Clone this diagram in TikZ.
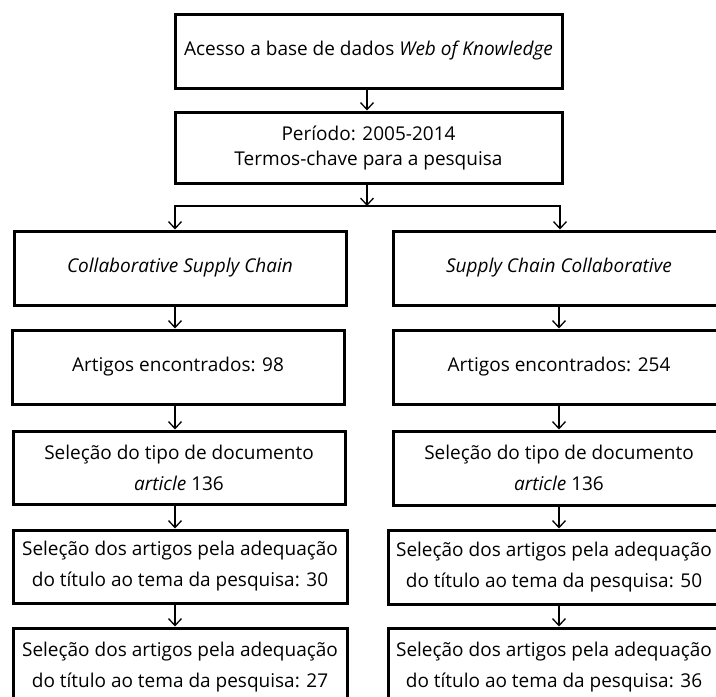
\documentclass[tikz,border=0pt]{standalone}
\usepackage{fontspec}
\setmainfont{Open Sans}
\usetikzlibrary{arrows.meta}
\begin{document}
\begin{tikzpicture}[x=1pt,y=-1pt,
  box/.style={draw=black,line width=3pt,rectangle,align=center,inner sep=0pt,
    font=\fontsize{19}{25}\selectfont},
  wide/.style={font=\fontsize{19}{31}\selectfont},
  arr/.style={line width=1.3pt,-{Straight Barb[length=7pt,width=13pt,line width=1.3pt]}}]
\useasboundingbox (0,0) rectangle (716,697);
\clip (0,0) rectangle (716,697);
% top
\node[box,minimum width=387,minimum height=74] (b1) at (368.5,51) {Acesso a base de dados \textit{Web of Knowledge}};
\node[box,minimum width=387,minimum height=71] (b2) at (368.5,147.5) {Período: 2005-2014\\Termos-chave para a pesquisa};
\coordinate (j) at (367,206);
% left column
\node[box,minimum width=332,minimum height=74] (b3L) at (180,268) {\textit{Collaborative Supply Chain}};
\node[box,minimum width=332,minimum height=74] (b4L) at (178,367) {Artigos encontrados: 98};
\node[box,wide,minimum width=332,minimum height=73] (b5L) at (179,467.5) {Seleção do tipo de documento\\\textit{article} 136};
\node[box,wide,minimum width=334,minimum height=73] (b6L) at (180,566.5) {Seleção dos artigos pela adequação\\do título ao tema da pesquisa: 30};
\node[box,wide,minimum width=334,minimum height=78] (b7L) at (180,667) {Seleção dos artigos pela adequação\\do título ao tema da pesquisa: 27};
% right column
\node[box,minimum width=332,minimum height=74] (b3R) at (559,268) {\textit{Supply Chain Collaborative}};
\node[box,minimum width=332,minimum height=74] (b4R) at (559,367) {Artigos encontrados: 254};
\node[box,wide,minimum width=332,minimum height=74] (b5R) at (559,468) {Seleção do tipo de documento\\\textit{article} 136};
\node[box,wide,minimum width=332,minimum height=74] (b6R) at (554,567) {Seleção dos artigos pela adequação\\do título ao tema da pesquisa: 50};
\node[box,wide,minimum width=332,minimum height=78] (b7R) at (554,667) {Seleção dos artigos pela adequação\\do título ao tema da pesquisa: 36};
% connectors
\draw[arr] ([xshift=-1.5pt]b1.south) -- ([xshift=-1.5pt]b2.north);
\draw[arr] ([xshift=-1.5pt]b2.south) -- (j);
\draw[arr] (j) -| ([xshift=-5pt]b3L.north);
\draw[arr] (j) -| ([xshift=1pt]b3R.north);
\draw[arr] ([xshift=-5pt]b3L.south) -- ([xshift=-5pt]b3L.south |- b4L.north);
\draw[arr] ([xshift=-5pt]b3L.south |- b4L.south) -- ([xshift=-5pt]b3L.south |- b5L.north);
\draw[arr] ([xshift=-5pt]b3L.south |- b5L.south) -- ([xshift=-5pt]b3L.south |- b6L.north);
\draw[arr] ([xshift=-5pt]b3L.south |- b6L.south) -- ([xshift=-5pt]b3L.south |- b7L.north);
\draw[arr] (b3R.south) -- (b3R.south |- b4R.north);
\draw[arr] (b3R.south |- b4R.south) -- (b3R.south |- b5R.north);
\draw[arr] (b3R.south |- b5R.south) -- (b3R.south |- b6R.north);
\draw[arr] (b3R.south |- b6R.south) -- (b3R.south |- b7R.north);
\end{tikzpicture}
\end{document}
